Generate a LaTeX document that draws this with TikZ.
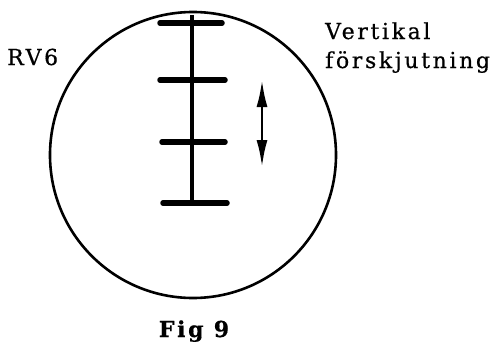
\documentclass[tikz,border=0pt]{standalone}
\usepackage{fontspec}
\setmainfont{DejaVu Serif}[LetterSpace=12, FakeBold=0.6]
\usetikzlibrary{arrows.meta, positioning}

\begin{document}
\begin{tikzpicture}[
  x=1pt, y=-1pt,
  txt/.style={inner sep=0pt, align=left, font=\fontsize{22}{29}\selectfont},
  figtxt/.style={inner sep=0pt, font=\fontsize{22}{26}\selectfont\bfseries},
  field/.style={circle, draw=black, line width=2.6pt, inner sep=0pt, minimum size=286pt},
  stem/.style={line width=3.8pt},
  tickmark/.style={line width=5.5pt, line cap=round},
  shiftarrow/.style={{Latex[length=27pt, width=11pt]}-{Latex[length=27pt, width=11pt]}, line width=2.6pt}
]
\useasboundingbox (0,0) rectangle (493,343);

\node[field] (view) at (193,155) {};

% reticle
\coordinate (stemtop) at (192,15);
\coordinate (stembot) at (192,203);
\draw[stem] (stemtop) -- (stembot);
\foreach \y/\xl/\xr in {23/160/222, 80/160/225, 142/162/225, 203/163/227}
  \draw[tickmark] (\xl,\y) -- (\xr,\y);

% vertical shift
\coordinate (shifttop) at (262,80);
\coordinate (shiftbot) at (262,167);
\draw[shiftarrow] (shifttop) -- (shiftbot);

\node[txt, anchor=base west] (rv) at (7,65) {RV6};
\node[txt, anchor=base west] (vert) at (325,68) {Vertikal\\förskjutning};
\node[figtxt, anchor=base] (fig) at (194,337) {Fig 9};

\end{tikzpicture}
\end{document}
